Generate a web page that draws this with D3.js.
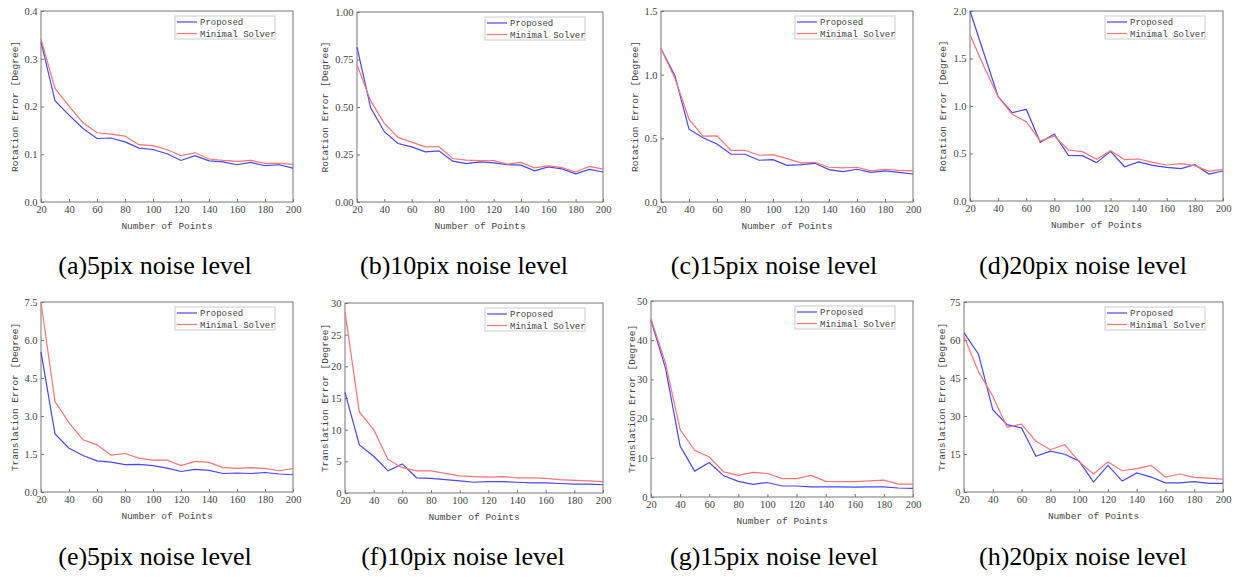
<!DOCTYPE html>
<html>
<head>
<meta charset="utf-8">
<script src="https://cdn.jsdelivr.net/npm/d3@7"></script>
<style>
  body { margin: 0; background: #fff; }
  svg text { fill: #444; }
</style>
</head>
<body>
<svg id="chart" width="1247" height="577"></svg>
<script>
// x values shared by all panels
const points = [20, 30, 40, 50, 60, 70, 80, 90, 100, 110, 120, 130, 140, 150, 160, 170, 180, 190, 200]
const xTicks = [20, 40, 60, 80, 100, 120, 140, 160, 180, 200]
const seriesNames = ['Proposed', 'Minimal Solver']

// rotation error, degree
const rotA_prop = [0.336, 0.212, 0.182, 0.154, 0.133, 0.134, 0.126, 0.113, 0.110, 0.101, 0.087, 0.097, 0.086, 0.084, 0.078, 0.083, 0.076, 0.078, 0.071]
const rotA_min  = [0.341, 0.238, 0.201, 0.166, 0.145, 0.142, 0.138, 0.120, 0.118, 0.110, 0.097, 0.103, 0.090, 0.087, 0.085, 0.087, 0.081, 0.081, 0.079]
const rotB_prop = [0.815, 0.496, 0.370, 0.308, 0.290, 0.264, 0.269, 0.215, 0.202, 0.211, 0.206, 0.197, 0.194, 0.164, 0.185, 0.174, 0.148, 0.172, 0.158]
const rotB_min  = [0.722, 0.532, 0.414, 0.340, 0.315, 0.290, 0.292, 0.229, 0.220, 0.218, 0.218, 0.199, 0.208, 0.180, 0.190, 0.181, 0.158, 0.187, 0.173]
const rotC_prop = [1.206, 0.989, 0.572, 0.504, 0.456, 0.375, 0.375, 0.328, 0.333, 0.288, 0.294, 0.304, 0.254, 0.239, 0.257, 0.233, 0.244, 0.233, 0.220]
const rotC_min  = [1.206, 0.970, 0.650, 0.517, 0.519, 0.406, 0.406, 0.367, 0.372, 0.341, 0.307, 0.312, 0.273, 0.268, 0.273, 0.244, 0.257, 0.249, 0.244]
const rotD_prop = [2.00, 1.55, 1.098, 0.930, 0.965, 0.618, 0.705, 0.481, 0.477, 0.404, 0.523, 0.361, 0.411, 0.375, 0.354, 0.340, 0.382, 0.284, 0.316]
const rotD_min  = [1.747, 1.414, 1.098, 0.912, 0.835, 0.632, 0.684, 0.537, 0.519, 0.439, 0.530, 0.435, 0.442, 0.407, 0.379, 0.393, 0.372, 0.312, 0.333]

// translation error
const trE_prop = [5.53, 2.29, 1.73, 1.44, 1.23, 1.18, 1.08, 1.09, 1.04, 0.94, 0.81, 0.89, 0.85, 0.73, 0.75, 0.73, 0.77, 0.71, 0.68]
const trE_min  = [7.5, 3.57, 2.74, 2.06, 1.86, 1.46, 1.52, 1.34, 1.26, 1.26, 1.04, 1.21, 1.17, 0.96, 0.93, 0.96, 0.93, 0.84, 0.92]
const trF_prop = [15.9, 7.6, 5.8, 3.5, 4.6, 2.4, 2.3, 2.1, 1.9, 1.7, 1.8, 1.8, 1.7, 1.6, 1.6, 1.5, 1.4, 1.4, 1.3]
const trF_min  = [28.6, 12.8, 10.0, 5.3, 4.0, 3.5, 3.5, 3.1, 2.7, 2.6, 2.5, 2.6, 2.4, 2.4, 2.3, 2.1, 2.0, 1.9, 1.8]
const trG_prop = [45.1, 32.8, 13.0, 6.6, 8.8, 5.4, 4.0, 3.2, 3.7, 2.8, 2.8, 2.6, 2.6, 2.6, 2.5, 2.6, 2.6, 2.3, 2.2]
const trG_min  = [45.4, 34.1, 17.2, 11.9, 10.2, 6.4, 5.5, 6.3, 6.0, 4.7, 4.7, 5.5, 4.0, 3.9, 3.9, 4.1, 4.3, 3.3, 3.3]
const trH_prop = [62.8, 54.5, 32.5, 26.6, 25.3, 14.1, 16.1, 14.9, 12.2, 3.9, 10.5, 4.3, 7.5, 5.9, 3.6, 3.6, 4.1, 3.4, 3.4]
const trH_min  = [61.4, 47.6, 37.8, 25.5, 26.8, 20.0, 16.7, 18.7, 12.0, 7.1, 11.8, 8.4, 9.2, 10.5, 5.9, 7.1, 5.8, 5.5, 5.1]

// y ticks per panel
const yTicksA = [0.0, 0.1, 0.2, 0.3, 0.4]
const yTicksB = [0.00, 0.25, 0.50, 0.75, 1.00]
const yTicksC = [0.0, 0.5, 1.0, 1.5]
const yTicksD = [0.0, 0.5, 1.0, 1.5, 2.0]
const yTicksE = [0.0, 1.5, 3.0, 4.5, 6.0, 7.5]
const yTicksF = [0, 5, 10, 15, 20, 25, 30]
const yTicksG = [0, 10, 20, 30, 40, 50]
const yTicksH = [0, 15, 30, 45, 60, 75]

const captions = ['(a)5pix noise level', '(b)10pix noise level', '(c)15pix noise level', '(d)20pix noise level',
  '(e)5pix noise level', '(f)10pix noise level', '(g)15pix noise level', '(h)20pix noise level']

const colors = ['#4646ff', '#ff7373']
const smallFont = '"Liberation Mono", monospace'
const numFont = '"Liberation Serif", serif'

// panel layout: plot box, y label offset, caption centre
const panels = [
  {prop: rotA_prop, min: rotA_min, ticks: yTicksA, fmt: '.1f', label: 'Rotation Error [Degree]', l: 41, r: 293, t: 11, b: 202, lab: 26, cx: 155, cy: 274},
  {prop: rotB_prop, min: rotB_min, ticks: yTicksB, fmt: '.2f', label: 'Rotation Error [Degree]', l: 357, r: 603, t: 12, b: 202, lab: 32, cx: 464, cy: 274},
  {prop: rotC_prop, min: rotC_min, ticks: yTicksC, fmt: '.1f', label: 'Rotation Error [Degree]', l: 661, r: 913, t: 11, b: 202, lab: 26, cx: 774, cy: 274},
  {prop: rotD_prop, min: rotD_min, ticks: yTicksD, fmt: '.1f', label: 'Rotation Error [Degree]', l: 970, r: 1223, t: 11, b: 201, lab: 27, cx: 1083, cy: 274},
  {prop: trE_prop, min: trE_min, ticks: yTicksE, fmt: '.1f', label: 'Translation Error [Degree]', l: 41, r: 293, t: 302, b: 492, lab: 26, cx: 155, cy: 565},
  {prop: trF_prop, min: trF_min, ticks: yTicksF, fmt: 'd', label: 'Translation Error [Degree]', l: 345, r: 603, t: 303, b: 493, lab: 20, cx: 463, cy: 565},
  {prop: trG_prop, min: trG_min, ticks: yTicksG, fmt: 'd', label: 'Translation Error [Degree]', l: 651, r: 913, t: 301, b: 497, lab: 19, cx: 774, cy: 565},
  {prop: trH_prop, min: trH_min, ticks: yTicksH, fmt: 'd', label: 'Translation Error [Degree]', l: 964, r: 1223, t: 302, b: 492, lab: 22, cx: 1083, cy: 565}
]

const svg = d3.select('#chart')

panels.forEach((p, k) => {
  let w = p.r - p.l, h = p.b - p.t
  let g = svg.append('g').attr('transform', `translate(${p.l},${p.t})`)

  let x = d3.scaleLinear().domain([20, 200]).range([0, w])
  let y = d3.scaleLinear().domain([0, d3.max(p.ticks)]).range([h, 0])

  // axes with inward ticks
  let xAxis = g.append('g').attr('transform', `translate(0,${h})`)
    .call(d3.axisBottom(x).tickValues(xTicks).tickSizeInner(-3).tickSizeOuter(0).tickPadding(4))
  let yAxis = g.append('g')
    .call(d3.axisLeft(y).tickValues(p.ticks).tickFormat(d3.format(p.fmt)).tickSizeInner(-3).tickSizeOuter(0).tickPadding(3.5))
  ;[xAxis, yAxis].forEach(a => {
    a.select('.domain').remove()
    a.selectAll('line').attr('stroke', '#777')
    a.selectAll('text').attr('font-family', numFont).attr('font-size', 10.5).attr('fill', '#444')
  })

  // frame
  g.append('rect').attr('width', w).attr('height', h)
    .attr('fill', 'none').attr('stroke', '#777').attr('stroke-width', 1)

  // lines
  let line = d3.line().x((d, i) => x(points[i])).y(d => y(d))
  ;[p.prop, p.min].forEach((s, i) => {
    g.append('path').datum(s).attr('d', line)
      .attr('fill', 'none').attr('stroke', colors[i]).attr('stroke-width', 1.2)
  })

  // legend
  let lg = g.append('g').attr('transform', `translate(${w - 118},5)`)
  lg.append('rect').attr('width', 100).attr('height', 23)
    .attr('fill', '#fff').attr('stroke', '#ccc').attr('stroke-width', 1)
  seriesNames.forEach((n, i) => {
    let yy = 6 + i * 11.5
    lg.append('line').attr('x1', 2).attr('x2', 22).attr('y1', yy).attr('y2', yy)
      .attr('stroke', colors[i]).attr('stroke-width', 1.2)
    lg.append('text').attr('x', 25).attr('y', yy + 3).text(n)
      .attr('font-family', smallFont).attr('font-size', 9)
  })

  // axis titles
  g.append('text').attr('x', w / 2).attr('y', h + 27).attr('text-anchor', 'middle')
    .attr('font-family', smallFont).attr('font-size', 9.5).text('Number of Points')
  g.append('text').attr('transform', `translate(${-p.lab + 3},${h / 2}) rotate(-90)`)
    .attr('text-anchor', 'middle').attr('font-family', smallFont).attr('font-size', 9.5).text(p.label)

  // caption
  svg.append('text').attr('x', p.cx).attr('y', p.cy).attr('text-anchor', 'middle')
    .attr('font-family', '"Liberation Serif", serif').attr('font-size', 26)
    .style('fill', '#000').text(captions[k])
})
</script>
</body>
</html>
